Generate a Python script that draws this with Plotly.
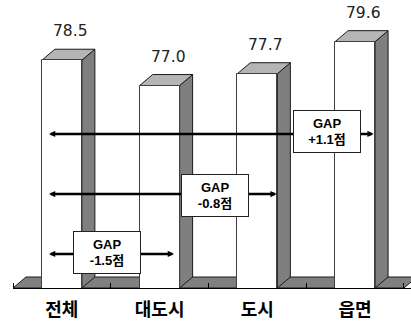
import plotly.graph_objects as go

# ---- data ----
categories = ["전체", "대도시", "도시", "읍면"]
values = [78.5, 77.0, 77.7, 79.6]
value_labels = ["78.5", "77.0", "77.7", "79.6"]
gap_texts = ["GAP<br>-1.5점", "GAP<br>-0.8점", "GAP<br>+1.1점"]

# ---- layout geometry / style ----
W, H = 411, 323
ML, MR, MT, MB = 13, 0, 0, 35
X_RANGE = [-0.5, 3.572]
Y_RANGE = [65.0, 82.07]
px_x = (W - ML - MR) / (X_RANGE[1] - X_RANGE[0])
px_y = (H - MT - MB) / (Y_RANGE[1] - Y_RANGE[0])
DX = 13 / px_x          # depth offset (x) in data units
DY = 11 / px_y          # depth offset (y) in data units
BAR_W = 40 / px_x
BASE = Y_RANGE[0]

SIDE = "#7f7f7f"
TOP = "#b5b5b5"
FLOOR = "#808080"
EDGE = "#1a1a1a"

xs = list(range(len(categories)))

fig = go.Figure()
fig.add_trace(go.Bar(
    x=xs, y=values, width=BAR_W,
    marker=dict(color="white", line=dict(color="#404040", width=1)),
    hoverinfo="skip", showlegend=False,
))

shapes = []
# floor
fl, fr = X_RANGE[0], len(categories) - 0.5
shapes.append(dict(
    type="path", xref="x", yref="y", layer="below",
    path=f"M{fl},{BASE} L{fl+DX},{BASE+DY} L{fr+DX},{BASE+DY} L{fr},{BASE} Z",
    fillcolor=FLOOR, line=dict(color=EDGE, width=1),
))
for i, v in zip(xs, values):
    l = i - BAR_W / 2
    r = i + BAR_W / 2
    shapes.append(dict(
        type="path", xref="x", yref="y", layer="below",
        path=f"M{r},{BASE} L{r+DX},{BASE+DY} L{r+DX},{v+DY} L{r},{v} Z",
        fillcolor=SIDE, line=dict(color=EDGE, width=1),
    ))
    shapes.append(dict(
        type="path", xref="x", yref="y", layer="below",
        path=f"M{l},{v} L{l+DX},{v+DY} L{r+DX},{v+DY} L{r},{v} Z",
        fillcolor=TOP, line=dict(color=EDGE, width=1),
    ))

annotations = []
for i, v, t in zip(xs, values, value_labels):
    annotations.append(dict(
        x=i + DX / 2, y=v, xref="x", yref="y", text=t, showarrow=False,
        xshift=2, yshift=29, yanchor="middle",
        font=dict(family="DejaVu Sans", size=15.5, color="#222222"),
    ))

# GAP arrows (from 전체 to each other group) and labels
arrow_y = [67.02, 70.57, 74.13]
arrow_left = -0.147
arrow_right = [1.147, 2.198, 3.19]
box_x = [0.4617, 1.5667, 2.7075]
box_y = [67.075, 70.483, 74.277]
for yy, xr in zip(arrow_y, arrow_right):
    annotations.append(dict(
        x=xr, y=yy, ax=arrow_left, ay=yy, xref="x", yref="y",
        axref="x", ayref="y", text="", showarrow=True,
        arrowside="end+start", arrowhead=2, startarrowhead=2,
        arrowsize=0.5, startarrowsize=0.5, arrowwidth=2.5,
        arrowcolor="black", standoff=0, startstandoff=0,
    ))
for bx, by, t in zip(box_x, box_y, gap_texts):
    annotations.append(dict(
        x=bx, y=by, xref="x", yref="y", text=t, showarrow=False,
        bgcolor="white", bordercolor="#222222", borderwidth=1, borderpad=1,
        width=64, height=39,
        font=dict(family="Liberation Sans, Noto Sans CJK KR", size=13,
                  color="black", weight="bold"),
    ))

fig.update_layout(
    width=W, height=H,
    margin=dict(l=ML, r=MR, t=MT, b=MB, pad=0),
    paper_bgcolor="white", plot_bgcolor="white",
    shapes=shapes, annotations=annotations,
    bargap=0,
    xaxis=dict(
        range=X_RANGE, tickmode="array", tickvals=xs, ticktext=categories,
        showgrid=False, zeroline=False, showline=True, linecolor="black",
        linewidth=1, ticks="", ticklabelstandoff=5,
        tickfont=dict(family="Noto Sans CJK KR", size=18, color="black",
                      weight="bold"),
        minor=dict(tickmode="linear", tick0=0.5, dtick=1, ticks="inside",
                   ticklen=5, tickcolor="black", showgrid=False),
    ),
    yaxis=dict(range=Y_RANGE, visible=False, showgrid=False),
)

fig.write_html("out.html")
